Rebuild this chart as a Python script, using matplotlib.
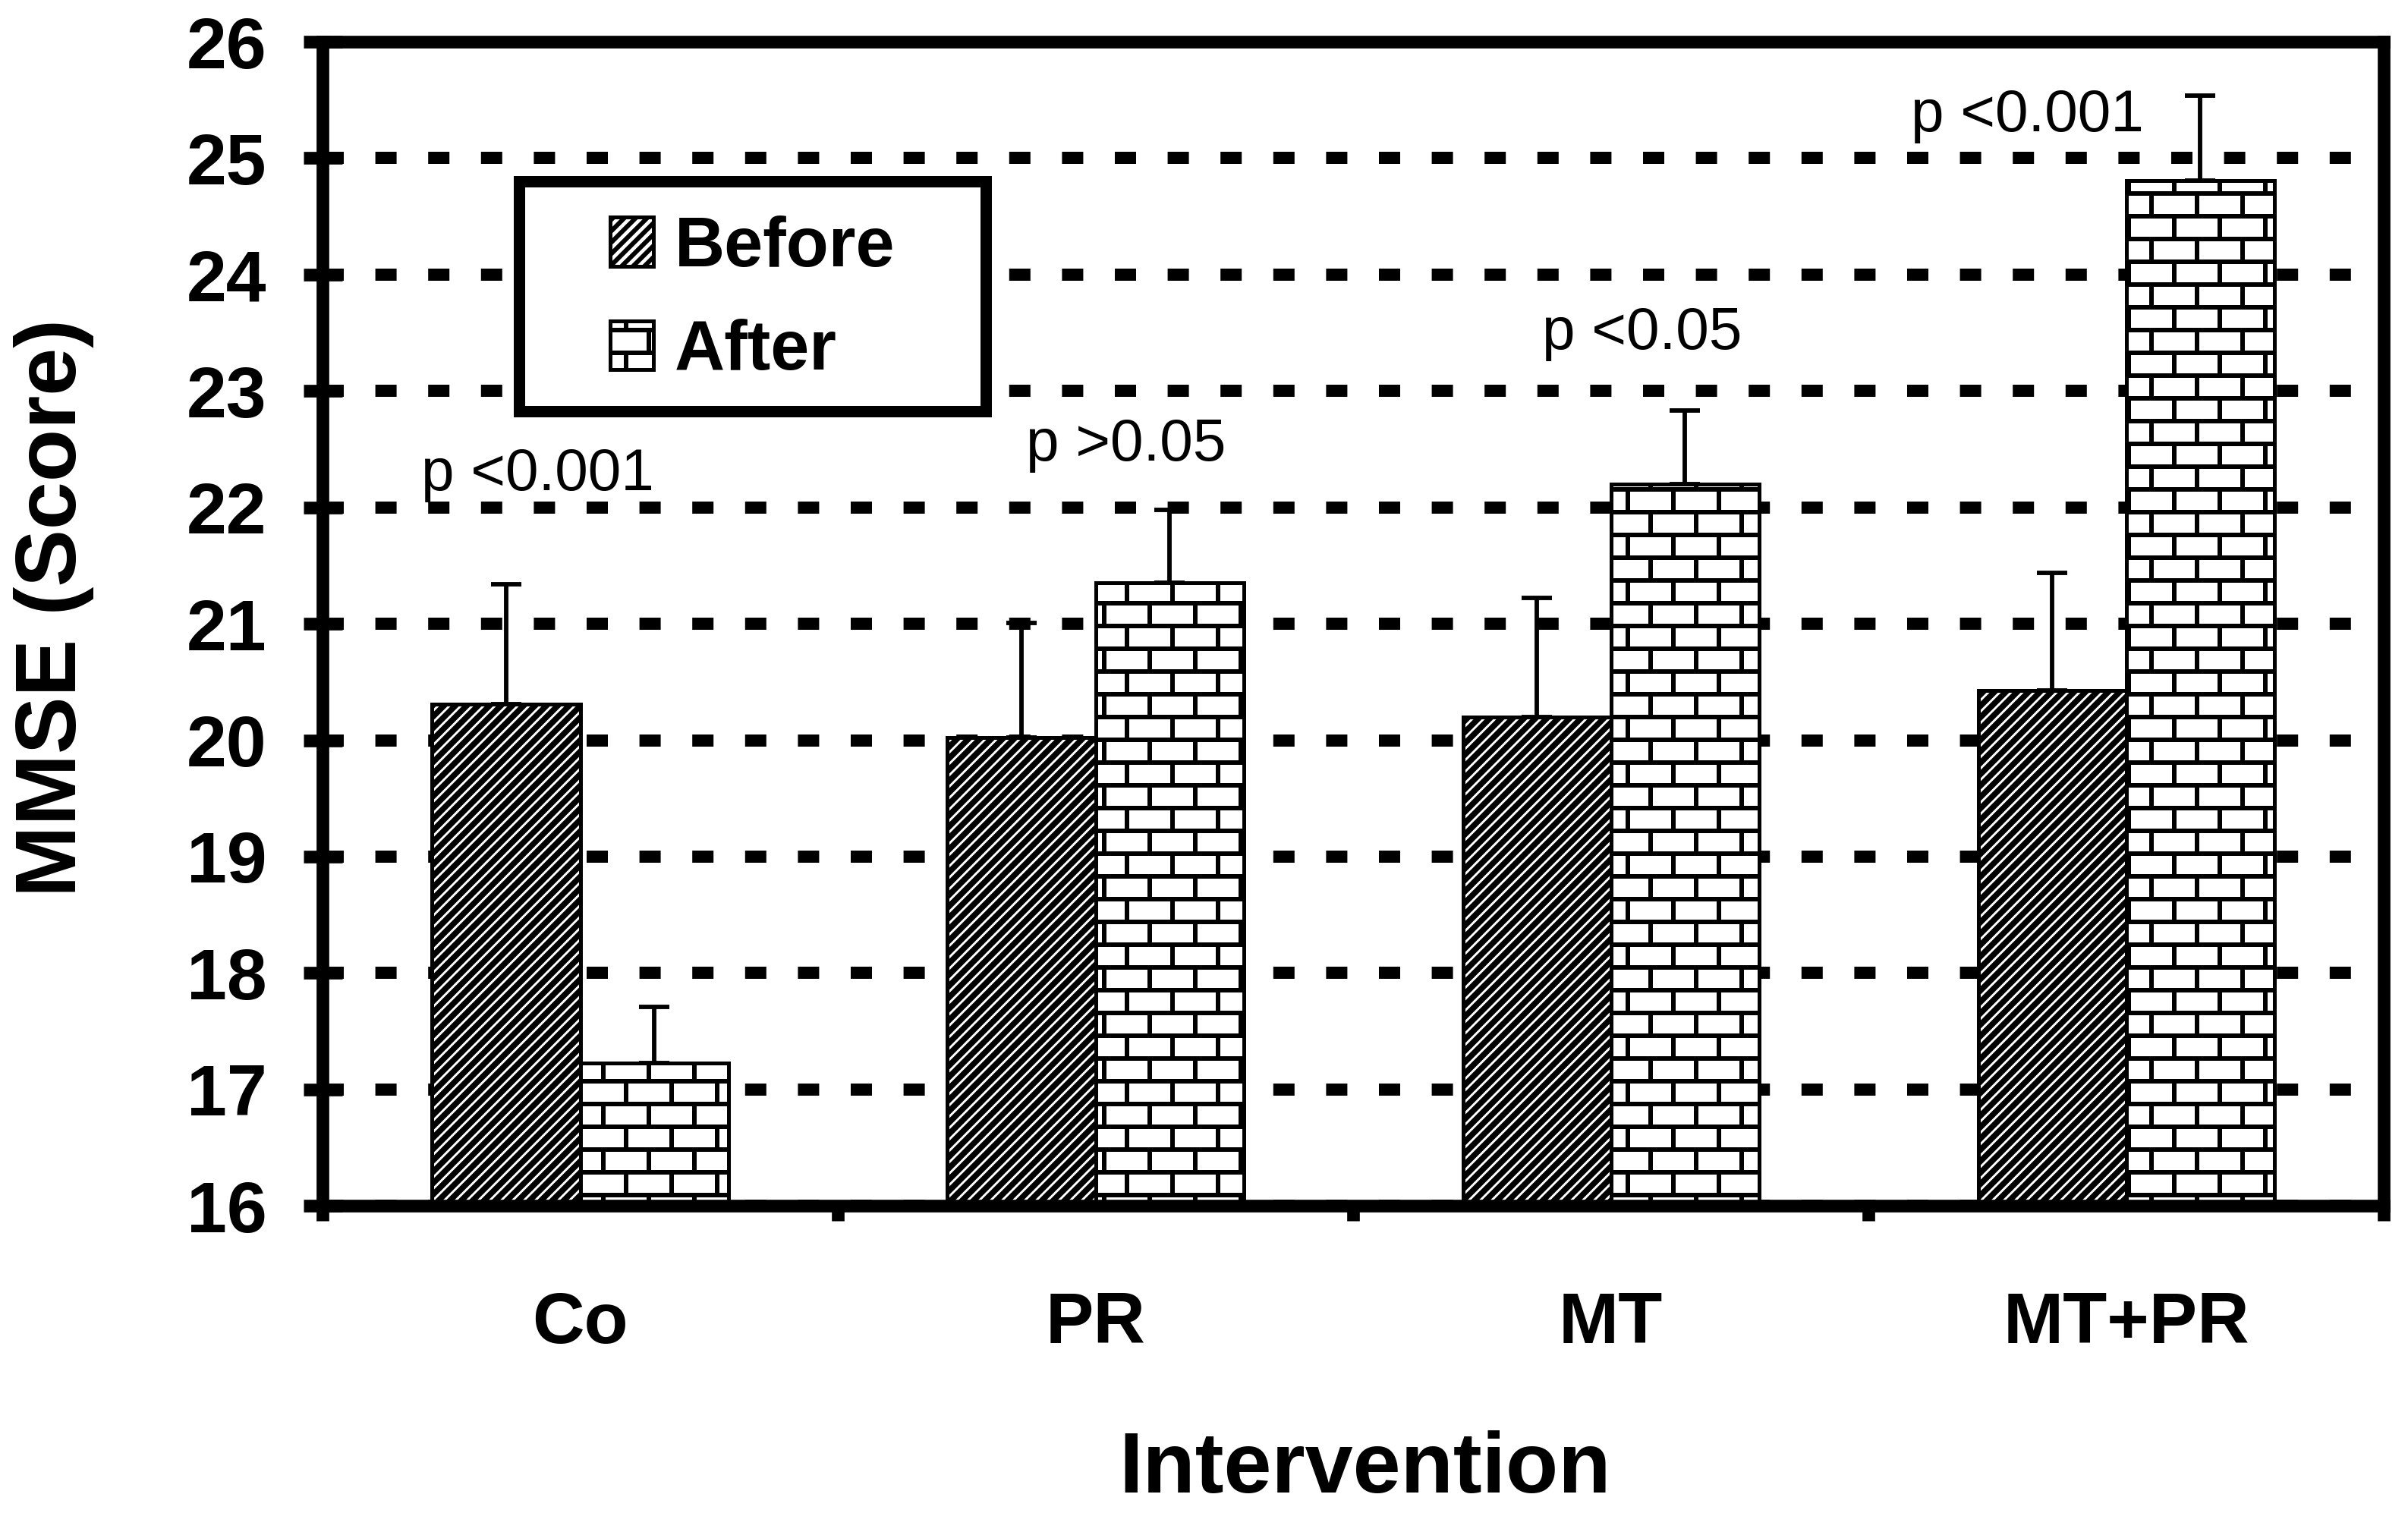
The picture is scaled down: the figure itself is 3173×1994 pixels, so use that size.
import warnings
import numpy as np
import matplotlib
matplotlib.use("Agg")
import matplotlib.pyplot as plt
import matplotlib.hatch as mhatch
from matplotlib.path import Path
from matplotlib.patches import Rectangle

warnings.filterwarnings("ignore")

# Datos
grupos = ["Co", "PR", "MT", "MT+PR"]
antes = [20.31, 20.02, 20.20, 20.43]
antes_err = [1.03, 0.99, 1.02, 1.01]
despues = [17.23, 21.35, 22.20, 24.81]
despues_err = [0.48, 0.63, 0.63, 0.73]
p_textos = ["p <0.001", "p >0.05", "p <0.05", "p <0.001"]

# Posicion de los textos de p (layout, no datos)
p_pos = [(-0.083, 22.15), (1.059, 22.40), (2.06, 23.36), (2.808, 25.23)]


class LadrilloHatch(mhatch.HatchPatternBase):
    """Patron de ladrillos: 4 filas y 2 ladrillos por celda."""
    def __init__(self, hatch, density):
        self.num_vertices = 28 if "b" in hatch else 0

    def set_vertices_and_codes(self, vertices, codes):
        segs = []
        for y in (0.125, 0.375, 0.625, 0.875):
            segs.append(((0.0, y), (1.0, y)))
        for x in (0.125, 0.625):
            segs.append(((x, 0.125), (x, 0.375)))
            segs.append(((x, 0.625), (x, 0.875)))
        for x in (0.375, 0.875):
            segs.append(((x, 0.375), (x, 0.625)))
            segs.append(((x, 0.875), (x, 1.0)))
            segs.append(((x, 0.0), (x, 0.125)))
        vertices[:] = np.array(segs, dtype=float).reshape(-1, 2)
        codes[0::2] = Path.MOVETO
        codes[1::2] = Path.LINETO


class DiagonalHatch(mhatch.HatchPatternBase):
    """Diagonales densas (8 por celda)."""
    def __init__(self, hatch, density):
        self.offsets = np.arange(-8, 9) / 8.0 if "d" in hatch else np.array([])
        self.num_vertices = len(self.offsets) * 2

    def set_vertices_and_codes(self, vertices, codes):
        c = self.offsets
        vertices[0::2, 0] = c
        vertices[0::2, 1] = 0.0
        vertices[1::2, 0] = c + 1.0
        vertices[1::2, 1] = 1.0
        codes[0::2] = Path.MOVETO
        codes[1::2] = Path.LINETO


mhatch._hatch_types.extend([LadrilloHatch, DiagonalHatch])
mhatch._validate_hatch_pattern = lambda h: None

plt.rcParams["font.family"] = ["Liberation Sans", "DejaVu Sans"]
plt.rcParams["font.weight"] = "bold"
plt.rcParams["hatch.color"] = "black"

DPI = 120
fig = plt.figure(figsize=(3173 / DPI, 1994 / DPI), dpi=DPI)
ax = fig.add_axes([0.134, 0.203, 0.856, 0.7694])

x = np.arange(len(grupos))
ancho = 0.2875
err_kw = dict(elinewidth=3.5, capsize=12, capthick=3.5, ecolor="black")

plt.rcParams["hatch.linewidth"] = 4.6
b1 = ax.bar(x - ancho / 2, antes, ancho, yerr=[np.zeros(len(antes)), antes_err],
            color="white", edgecolor="black", linewidth=3, hatch="d",
            error_kw=err_kw, zorder=2)
plt.rcParams["hatch.linewidth"] = 3.6
b2 = ax.bar(x + ancho / 2, despues, ancho, yerr=[np.zeros(len(despues)), despues_err],
            color="white", edgecolor="black", linewidth=3, hatch="b",
            error_kw=err_kw, zorder=2)
for barra in b1:
    if hasattr(barra, "set_hatch_linewidth"):
        barra.set_hatch_linewidth(4.6)
for barra in b2:
    if hasattr(barra, "set_hatch_linewidth"):
        barra.set_hatch_linewidth(3.6)

for (px, py), txt in zip(p_pos, p_textos):
    ax.text(px, py, txt, ha="center", va="baseline", fontsize=47,
            fontweight="normal", zorder=4)

ax.set_xlim(-0.5, 3.5)
ax.set_ylim(16, 26)
ax.set_yticks(range(16, 27))
ax.set_xticks(x)
ax.set_xticklabels(grupos)
ax.set_xticks(np.arange(-0.5, 4.0, 1.0), minor=True)

ax.yaxis.grid(True, color="black", linewidth=9.6, linestyle=(0, (1.75, 2.6)))
ax.set_axisbelow(True)

ax.tick_params(axis="y", direction="inout", length=30.6, width=10, pad=29,
               labelsize=57, right=False)
ax.tick_params(axis="x", which="major", length=0, pad=67, labelsize=57)
ax.tick_params(axis="x", which="minor", direction="out", length=12, width=10)

for s in ax.spines.values():
    s.set_linewidth(10)
    s.set_capstyle("projecting")

ax.set_ylabel("MMSE (Score)", fontsize=68, fontweight="bold")
ax.yaxis.set_label_coords(-0.111, 0.514)
ax.set_xlabel("Intervention", fontsize=68, fontweight="bold")
ax.xaxis.set_label_coords(0.5055, -0.193)

leg = ax.legend([b1, b2], ["Before", "After"], loc="upper left",
                bbox_to_anchor=(0.1395, 0.851), frameon=False, fontsize=55,
                handlelength=0.62, handleheight=0.70, handletextpad=0.30,
                labelspacing=0.55, borderpad=0, borderaxespad=0)
leg.set_zorder(6)
ax.add_patch(Rectangle((0.0954, 0.6825), 0.2264, 0.1975, transform=ax.transAxes,
                       fill=True, facecolor="white", lw=9, edgecolor="black",
                       zorder=5, clip_on=False))

fig.savefig("out.png", dpi=DPI)
